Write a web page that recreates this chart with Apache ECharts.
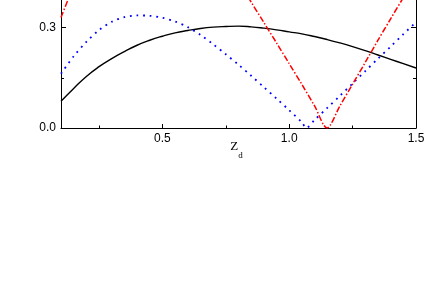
<!DOCTYPE html>
<html>
<head>
<meta charset="utf-8">
<script src="https://cdn.jsdelivr.net/npm/echarts@6/dist/echarts.min.js"></script>
<style>
html,body{margin:0;padding:0;background:#fff;overflow:hidden;width:436px;height:306px;}
#c{position:absolute;left:0;top:-73px;width:436px;height:379px;}
</style>
</head>
<body>
<div id="c"></div>
<script>
// ---- data ----
var blackX = [0.1,0.15,0.2,0.25,0.3,0.35,0.4,0.45,0.5,0.55,0.6,0.65,0.7,0.75,0.8,0.85,0.9,0.95,1.0,1.05,1.1,1.15,1.2,1.25,1.3,1.35,1.4,1.45,1.5];
var blackY = [0.080,0.118,0.154,0.183,0.207,0.228,0.247,0.262,0.274,0.284,0.291,0.297,0.301,0.303,0.304,0.302,0.298,0.293,0.287,0.281,0.273,0.264,0.254,0.243,0.231,0.218,0.205,0.192,0.179];

var blueX = [0.1,0.15,0.2,0.25,0.3,0.35,0.4,0.45,0.5,0.55,0.6,0.65,0.7,0.75,0.8,0.85,0.9,0.95,1.0,1.05,1.067,1.1,1.15,1.2,1.25,1.3,1.35,1.4,1.45,1.5];
var blueY = [0.162,0.214,0.257,0.292,0.317,0.331,0.336,0.335,0.329,0.318,0.301,0.278,0.250,0.220,0.189,0.156,0.122,0.088,0.053,0.017,0.0,0.024,0.060,0.096,0.133,0.170,0.207,0.243,0.280,0.316];

var redX = [0.1,0.13,0.15,0.2,0.25,0.3,0.35,0.4,0.45,0.5,0.55,0.6,0.65,0.7,0.75,0.8,0.85,0.9,0.95,1.0,1.05,1.1,1.149,1.2,1.25,1.3,1.35,1.4,1.45,1.5];
var redY = [0.33,0.388,0.43,0.50,0.56,0.61,0.65,0.68,0.70,0.71,0.70,0.67,0.63,0.58,0.51,0.44,0.376,0.315,0.254,0.192,0.130,0.066,0.0,0.066,0.131,0.196,0.262,0.326,0.389,0.45];

var xMajorTicks = [0.5, 1.0, 1.5];
var xMinorTicks = [0.25, 0.75, 1.25];
var xRange = [0.1, 1.5];
var yRange = [0, 0.6];

function pairs(xs, ys){ return xs.map(function(x,i){ return [x, ys[i]]; }); }

var chart = echarts.init(document.getElementById('c'), null, {renderer:'canvas'});
var axisColor = '#000';
var font = 'Liberation Sans, Arial, sans-serif';
var serif = 'Liberation Serif, Times New Roman, serif';

var option = {
  backgroundColor: '#fff',
  animation: false,
  grid: {left: 61, right: 20, top: 0, bottom: 178, containLabel: false, outerBoundsMode: 'none'},
  xAxis: [{
    type: 'value', min: xRange[0], max: xRange[1],
    axisLine: {show: true, onZero: false, lineStyle: {color: axisColor, width: 1}},
    axisTick: {show: true, inside: true, length: 4, customValues: xMajorTicks, lineStyle: {color: axisColor}},
    axisLabel: {show: true, customValues: xMajorTicks, margin: 5, color: '#000', fontSize: 12, fontFamily: font,
      formatter: function(v){ return v.toFixed(1); }},
    splitLine: {show: false},
    name: '{a|Z}{b|d}', nameLocation: 'middle', nameGap: 12.5, nameMoveOverlap: false,
    nameTextStyle: {padding: [0, 4, 0, 0], rich: {
      a: {fontFamily: serif, fontSize: 13, color: '#000', verticalAlign: 'top', lineHeight: 20},
      b: {fontFamily: serif, fontSize: 9, color: '#000', verticalAlign: 'bottom', lineHeight: 9}
    }}
  },{
    type: 'value', min: xRange[0], max: xRange[1], position: 'bottom',
    axisLine: {show: false, onZero: false},
    axisTick: {show: true, inside: true, length: 2.5, customValues: xMinorTicks, lineStyle: {color: axisColor}},
    axisLabel: {show: false},
    splitLine: {show: false}
  }],
  yAxis: [{
    type: 'value', min: yRange[0], max: yRange[1], interval: 0.3, position: 'left',
    axisLine: {show: true, onZero: false, lineStyle: {color: axisColor, width: 1}},
    axisTick: {show: true, inside: true, length: 5, lineStyle: {color: axisColor}},
    minorTick: {show: true, splitNumber: 2, length: 3, lineStyle: {color: axisColor}},
    axisLabel: {margin: 5, color: '#000', fontSize: 12, fontFamily: font, formatter: function(v){ return v.toFixed(1); }},
    splitLine: {show: false}
  },{
    type: 'value', min: yRange[0], max: yRange[1], interval: 0.3, position: 'right',
    axisLine: {show: true, onZero: false, lineStyle: {color: axisColor, width: 1}},
    axisTick: {show: true, inside: true, length: 5, lineStyle: {color: axisColor}},
    minorTick: {show: true, splitNumber: 2, length: 3, lineStyle: {color: axisColor}},
    axisLabel: {show: false},
    splitLine: {show: false}
  }],
  series: [{
    type: 'line', name: 'black', data: pairs(blackX, blackY), smooth: true, showSymbol: false, symbol: 'none', clip: true,
    lineStyle: {color: '#000', width: 1.4, type: 'solid'}
  },{
    type: 'line', name: 'blue', data: pairs(blueX, blueY), smooth: 0.3, showSymbol: false, symbol: 'none', clip: true,
    lineStyle: {color: '#0000ff', width: 1.8, type: [1.8, 4.8]}
  },{
    type: 'line', name: 'red', data: pairs(redX, redY), smooth: 0.3, showSymbol: false, symbol: 'none', clip: true,
    lineStyle: {color: '#ff0000', width: 1.5, type: [6, 2, 1.5, 2]}
  }]
};
chart.setOption(option);
</script>
</body>
</html>
